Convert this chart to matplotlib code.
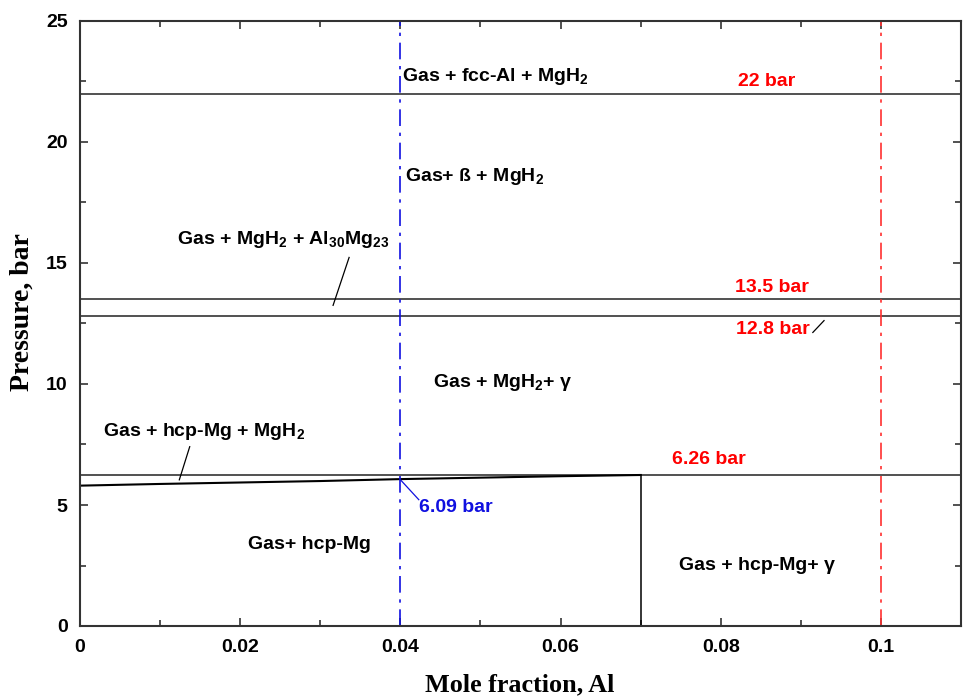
import matplotlib
matplotlib.use("Agg")
import matplotlib.pyplot as plt
from matplotlib.ticker import MultipleLocator, FixedLocator

plt.rcParams['font.family'] = ['Liberation Sans', 'DejaVu Sans']
plt.rcParams['mathtext.fontset'] = 'custom'
plt.rcParams['mathtext.rm'] = 'Liberation Sans'
plt.rcParams['mathtext.bf'] = 'Liberation Sans:bold'

# Data
boundary_pressures = [22.0, 13.5, 12.8, 6.26]
lower_x = [0.0, 0.01, 0.02, 0.03, 0.04, 0.05, 0.06, 0.07]
lower_y = [5.80, 5.87, 5.93, 5.99, 6.07, 6.13, 6.19, 6.24]
vert_x = [0.07, 0.07]
vert_y = [6.24, 0.0]
blue_x = 0.04
red_x = 0.10
xticks = [0, 0.02, 0.04, 0.06, 0.08, 0.1]
xtick_labels = ["0", "0.02", "0.04", "0.06", "0.08", "0.1"]
yticks = [0, 5, 10, 15, 20, 25]

fig = plt.figure(figsize=(9.63, 6.97), dpi=100)
ax = fig.add_axes([80/963, 71/697, 881/963, 605/697])
ax.set_xlim(0, 0.11)
ax.set_ylim(0, 25)

for p in boundary_pressures:
    ax.axhline(p, color='#222222', lw=1.1)
ax.plot(lower_x, lower_y, color='black', lw=1.5)
ax.plot(vert_x, vert_y, color='black', lw=1.1)
ax.axvline(blue_x, color='#1010e0', lw=1.2, dashes=(10, 4, 2, 4))
ax.axvline(red_x, color='#ff3030', lw=1.2, dashes=(10, 4, 2, 4))

# leader lines
ax.plot([0.0336, 0.0316], [15.23, 13.25], color='black', lw=0.9)
ax.plot([0.0915, 0.0929], [12.13, 12.62], color='black', lw=0.9)
ax.plot([0.0137, 0.0124], [7.41, 6.04], color='black', lw=0.9)
ax.plot([0.0401, 0.0423], [6.01, 5.22], color='#1010e0', lw=0.9)

fs = 14
kw = dict(fontsize=fs, fontweight='bold', va='center', ha='left')
ax.text(0.0402, 22.72, r'Gas + fcc-Al + MgH$_\mathbf{2}$', **kw)
ax.text(0.0821, 22.5, '22 bar', color='red', **kw)
ax.text(0.0406, 18.58, r'Gas+ ß + MgH$_\mathbf{2}$', **kw)
ax.text(0.0121, 15.98, r'Gas + MgH$_\mathbf{2}$ + Al$_\mathbf{30}$Mg$_\mathbf{23}$', **kw)
ax.text(0.0818, 13.99, '13.5 bar', color='red', **kw)
ax.text(0.0819, 12.25, '12.8 bar', color='red', **kw)
ax.text(0.0441, 10.06, r'Gas + MgH$_\mathbf{2}$+ γ', **kw)
ax.text(0.0029, 8.03, r'Gas + hcp-Mg + MgH$_\mathbf{2}$', **kw)
ax.text(0.0739, 6.87, '6.26 bar', color='red', **kw)
ax.text(0.0423, 4.88, '6.09 bar', color='#1010e0', **kw)
ax.text(0.0210, 3.35, 'Gas+ hcp-Mg', **kw)
ax.text(0.0748, 2.52, 'Gas + hcp-Mg+ γ', **kw)

ax.xaxis.set_major_locator(FixedLocator(xticks))
ax.set_xticklabels(xtick_labels)
ax.xaxis.set_minor_locator(MultipleLocator(0.01))
ax.yaxis.set_major_locator(FixedLocator(yticks))
ax.yaxis.set_minor_locator(MultipleLocator(2.5))
ax.tick_params(which='both', direction='in', top=True, right=True, width=1.2, color='#333333')
ax.tick_params(which='major', length=6, labelsize=14, pad=9)
ax.tick_params(which='minor', length=4)
for lab in ax.get_xticklabels() + ax.get_yticklabels():
    lab.set_fontweight('bold')
for s in ax.spines.values():
    s.set_linewidth(1.5)
    s.set_color('#333333')

ax.set_xlabel('Mole fraction, Al', fontsize=18.8, fontweight='bold', family='Liberation Serif')
ax.set_ylabel('Pressure, bar', fontsize=20, fontweight='bold', family='Liberation Serif')
ax.xaxis.label.set_va('center')
ax.yaxis.label.set_va('center')
ax.xaxis.set_label_coords(0.4994, -0.0975)
ax.yaxis.set_label_coords(-0.0658, 0.519)

fig.savefig('out.png', dpi=100)
